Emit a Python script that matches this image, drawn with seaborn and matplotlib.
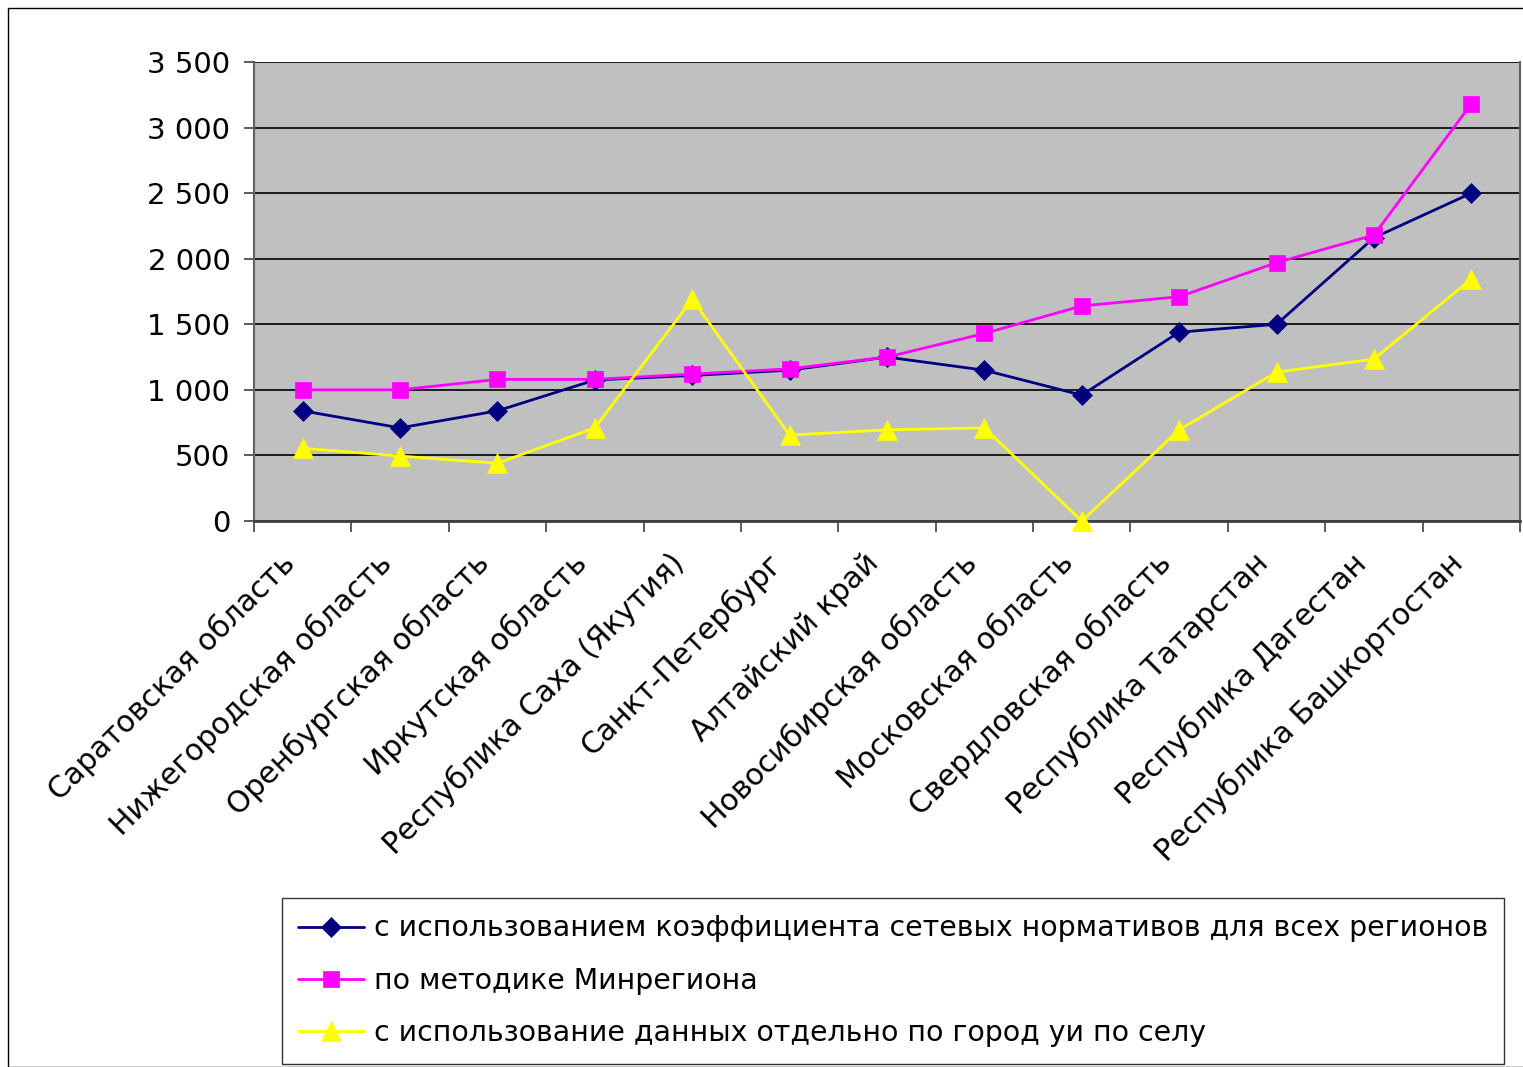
import matplotlib
matplotlib.use("Agg")
import matplotlib.pyplot as plt
import matplotlib.patches as mpatches
from matplotlib.ticker import FixedLocator, FuncFormatter
import seaborn as sns
import pandas as pd

regions = [
    "Саратовская область",
    "Нижегородская область",
    "Оренбургская область",
    "Иркутская область",
    "Республика Саха (Якутия)",
    "Санкт-Петербург",
    "Алтайский край",
    "Новосибирская область",
    "Московская область",
    "Свердловская область",
    "Республика Татарстан",
    "Республика Дагестан",
    "Республика Башкортостан",
]

network_coef = [840, 710, 840, 1075, 1110, 1150, 1250, 1150, 960, 1440, 1500, 2160, 2500]
minregion = [1000, 1000, 1080, 1080, 1120, 1160, 1250, 1430, 1640, 1710, 1970, 2180, 3180]
urban_rural = [555, 495, 440, 710, 1690, 655, 695, 710, 0, 695, 1135, 1235, 1845]

series_names = [
    "с использованием коэффициента сетевых нормативов для всех регионов",
    "по методике Минрегиона",
    "с использование данных отдельно по город уи по селу",
]
series_values = [network_coef, minregion, urban_rural]
colors = ["#000080", "#FF00FF", "#FFFF00"]
markers = ["D", "s", "^"]
marker_sizes = [10.5, 11, 14]

sns.set_theme(style="white")
plt.rcParams["font.family"] = ["DejaVu Sans"]
plt.rcParams["text.color"] = "black"
plt.rcParams["xtick.color"] = "black"
plt.rcParams["ytick.color"] = "black"

fig = plt.figure(figsize=(15.23, 10.67), dpi=100)
ax = fig.add_axes([254 / 1523, 1 - 521 / 1067, (1520 - 254) / 1523, (521 - 62) / 1067])
ax.set_facecolor("#C0C0C0")

# outer chart frame
frame = mpatches.Rectangle((8 / 1523, 0), 1.2, 1 - 8 / 1067, transform=fig.transFigure,
                           fill=False, edgecolor="black", linewidth=1.0, zorder=0)
fig.patches.append(frame)

positions = list(range(len(regions)))
for name, vals, col, mk, ms in zip(series_names, series_values, colors, markers, marker_sizes):
    df = pd.DataFrame({"x": positions, "y": vals})
    sns.lineplot(data=df, x="x", y="y", ax=ax, color=col, marker=mk, markersize=ms,
                 markeredgecolor=col, markeredgewidth=0.5, linewidth=2.0, label=name,
                 clip_on=False, zorder=3)

ax.set_xlim(-0.5, len(regions) - 0.5)
ax.set_ylim(0, 3500)
ax.set_xlabel("")
ax.set_ylabel("")

# y axis: black gridlines every 500
yt = list(range(0, 3501, 500))
ax.yaxis.set_major_locator(FixedLocator(yt))
ax.yaxis.set_major_formatter(FuncFormatter(lambda v, p: f"{int(v):,}".replace(",", " ")))
ax.grid(axis="y", color="black", linewidth=1.2)
ax.grid(axis="x", visible=False)
ax.set_axisbelow(True)
ax.tick_params(axis="y", which="major", direction="out", length=7, width=1.2,
               color="#404040", labelsize=21, labelcolor="black", pad=10, left=True)

# x axis: rotated labels ending just left of each category, tick marks between categories
label_offset = 0.13
ax.xaxis.set_major_locator(FixedLocator([p - label_offset for p in positions]))
ax.set_xticklabels(regions, rotation=45, ha="right", rotation_mode="anchor",
                   fontsize=21.5, va="center", color="black")
ax.xaxis.set_minor_locator(FixedLocator([p - 0.5 for p in positions] + [len(regions) - 0.5]))
ax.tick_params(axis="x", which="major", length=0, pad=27)
ax.tick_params(axis="x", which="minor", direction="out", length=8, width=1.2,
               color="#404040", bottom=True)

ax.spines["top"].set_visible(False)
ax.spines["right"].set_color("#606060")
ax.spines["right"].set_linewidth(1.5)
ax.spines["left"].set_color("#606060")
ax.spines["left"].set_linewidth(1.5)
ax.spines["bottom"].set_color("#404040")
ax.spines["bottom"].set_linewidth(2.0)

leg = ax.legend(loc="upper left", bbox_to_anchor=(282 / 1523, 1 - 898 / 1067),
                bbox_transform=fig.transFigure, frameon=True, fancybox=False,
                fontsize=20.45, handlelength=2.3, handletextpad=0.35, labelspacing=0.86,
                borderpad=0.58, borderaxespad=0)
leg.get_frame().set_edgecolor("black")
leg.get_frame().set_linewidth(1.0)
leg.get_frame().set_facecolor("white")
for t in leg.get_texts():
    t.set_color("black")

fig.savefig("out.png", dpi=100, facecolor="white")
